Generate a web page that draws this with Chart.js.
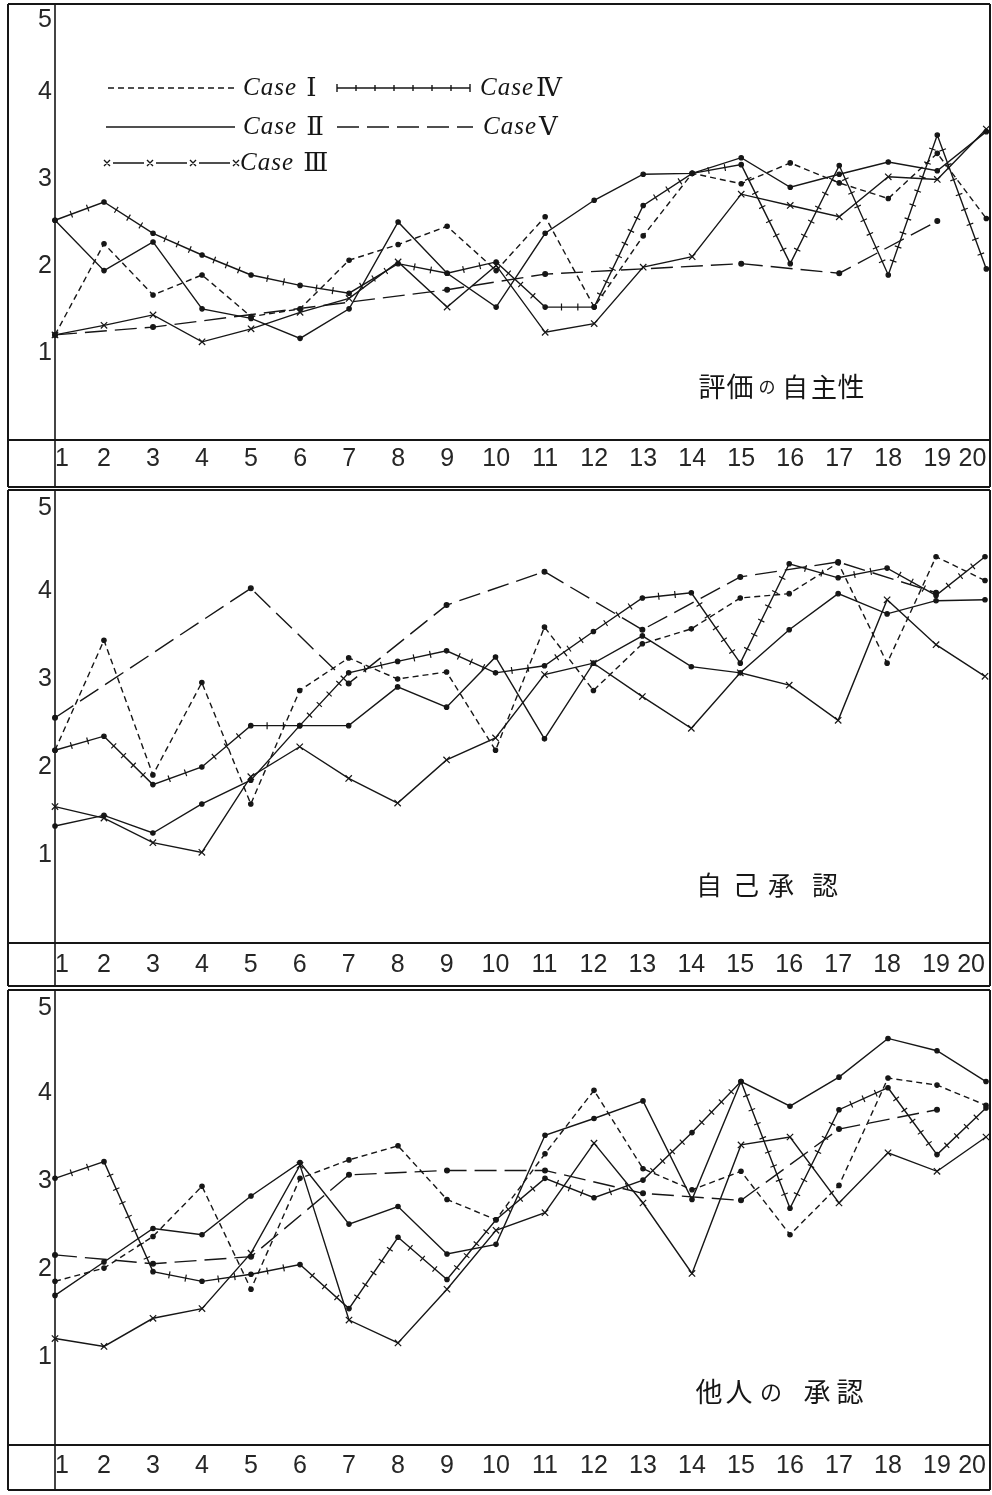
<!DOCTYPE html>
<html lang="ja">
<head>
<meta charset="utf-8">
<title>評価の自主性・自己承認・他人の承認</title>
<script src="https://cdn.jsdelivr.net/npm/chart.js@4.4.1/dist/chart.umd.min.js"></script>
<style>
  html, body { margin: 0; padding: 0; background: #fff; }
  body { width: 992px; height: 1495px; position: relative; overflow: hidden; }
  canvas { position: absolute; left: 0; display: block; }
</style>
</head>
<body>
<canvas id="c1" width="992" height="488" style="top:0"></canvas>
<canvas id="c2" width="992" height="500" style="top:488px"></canvas>
<canvas id="c3" width="992" height="507" style="top:988px"></canvas>
<script>
// sessions 1..20 and the y tick labels
const sessions = ['1','2','3','4','5','6','7','8','9','10','11','12','13','14','15','16','17','18','19','20'];
const yTicks = [1, 2, 3, 4, 5];
const caseNames = ['Case Ⅰ', 'Case Ⅱ', 'Case Ⅲ', 'CaseⅣ', 'CaseⅤ'];

// 評価の自主性
const autoI   = [1.21, 2.26, 1.67, 1.90, 1.42, 1.51, 2.07, 2.25, 2.46, 1.95, 2.57, 1.53, 2.35, 3.07, 2.95, 3.19, 2.96, 2.78, 3.30, 2.55];
const autoII  = [2.53, 1.95, 2.28, 1.51, 1.40, 1.17, 1.51, 2.51, 1.92, 1.53, 2.38, 2.76, 3.06, 3.07, 3.25, 2.91, 3.06, 3.20, 3.10, 3.55];
const autoIII = [1.21, 1.32, 1.44, 1.13, 1.28, 1.47, 1.63, 2.05, 1.53, 2.01, 1.24, 1.34, 1.99, 2.11, 2.83, 2.70, 2.57, 3.03, 3.00, 3.58];
const autoIV  = [2.53, 2.74, 2.38, 2.13, 1.90, 1.78, 1.69, 2.03, 1.92, 2.05, 1.53, 1.53, 2.70, 3.07, 3.17, 2.03, 3.16, 1.90, 3.51, 1.97];
const autoV   = [1.21, null, 1.30, null, null, null, null, null, 1.73, null, 1.91, null, null, null, 2.03, null, 1.92, null, 2.52, null];

// 自己承認
const selfI   = [2.19, 3.44, 1.91, 2.96, 1.58, 2.87, 3.24, 3.00, 3.08, 2.19, 3.59, 2.87, 3.40, 3.57, 3.92, 3.97, 4.32, 3.18, 4.39, 4.12];
const selfII  = [1.33, 1.45, 1.25, 1.58, 1.85, 2.47, 2.47, 2.91, 2.68, 3.25, 2.32, 3.18, 3.49, 3.14, 3.07, 3.56, 3.97, 3.74, 3.89, 3.90];
const selfIII = [1.55, 1.42, 1.14, 1.03, 1.89, 2.23, 1.87, 1.59, 2.08, 2.33, 3.05, 3.18, 2.80, 2.44, 3.07, 2.93, 2.53, 3.90, 3.39, 3.03];
const selfIV  = [2.19, 2.35, 1.80, 2.00, 2.47, 2.47, 3.07, 3.20, 3.32, 3.07, 3.15, 3.54, 3.92, 3.98, 3.18, 4.31, 4.15, 4.26, 3.95, 4.39];
const selfV   = [2.56, null, null, null, 4.03, null, 2.95, null, 3.84, null, 4.22, null, 3.56, null, 4.16, null, 4.33, null, 3.98, null];

// 他人の承認
const othersI   = [1.86, 2.01, 2.37, 2.94, 1.77, 3.03, 3.24, 3.40, 2.79, 2.56, 3.31, 4.03, 3.14, 2.90, 3.11, 2.39, 2.95, 4.17, 4.09, 3.86];
const othersII  = [1.70, 2.08, 2.46, 2.39, 2.83, 3.21, 2.51, 2.71, 2.17, 2.28, 3.52, 3.71, 3.91, 2.79, 4.13, 3.85, 4.18, 4.62, 4.48, 4.13];
const othersIII = [1.21, 1.12, 1.44, 1.55, 2.18, 3.18, 1.42, 1.16, 1.77, 2.44, 2.64, 3.43, 2.75, 1.95, 3.41, 3.50, 2.75, 3.32, 3.11, 3.50];
const othersIV  = [3.03, 3.22, 1.97, 1.86, 1.94, 2.05, 1.55, 2.36, 1.88, 2.56, 3.03, 2.81, 3.01, 3.55, 4.13, 2.69, 3.81, 4.06, 3.30, 3.83];
const othersV   = [2.16, null, 2.06, null, 2.14, null, 3.07, null, 3.12, null, 3.12, null, 2.86, null, 2.78, null, 3.59, null, 3.81, null];

const ink = '#161616';
const numFamily = "'Liberation Sans', 'Noto Sans', sans-serif";
const cjkFamily = "'Noto Sans CJK JP', sans-serif";

// line look of each case
const caseStyles = [
  { borderDash: [6, 4], pointStyle: 'circle', pointRadius: 2.2 },
  { borderDash: [], pointStyle: 'circle', pointRadius: 2.2 },
  { borderDash: [], pointStyle: 'crossRot', pointRadius: 4.5 },
  { borderDash: [], pointStyle: 'circle', pointRadius: 2.2, hatch: true },
  { borderDash: [22, 8], pointStyle: 'circle', pointRadius: 2.4 }
];

// small perpendicular ticks along a polyline (Case IV)
function drawHatch(ctx, pts, spacing, half) {
  for (let i = 0; i < pts.length - 1; i++) {
    const a = pts[i], b = pts[i + 1];
    const dx = b.x - a.x, dy = b.y - a.y, len = Math.hypot(dx, dy);
    if (!len) continue;
    const ux = dx / len, uy = dy / len;
    const n = Math.max(1, Math.round(len / spacing));
    for (let k = 1; k < n; k++) {
      const px = a.x + ux * len * k / n, py = a.y + uy * len * k / n;
      ctx.moveTo(px + uy * half, py - ux * half);
      ctx.lineTo(px - uy * half, py + ux * half);
    }
  }
}

const hatchPlugin = {
  id: 'hatch',
  afterDatasetsDraw(chart) {
    const ctx = chart.ctx;
    chart.data.datasets.forEach((ds, i) => {
      if (!ds.hatch) return;
      const pts = chart.getDatasetMeta(i).data.filter(p => !p.skip);
      ctx.save();
      ctx.strokeStyle = ink;
      ctx.lineWidth = 1.2;
      ctx.beginPath();
      drawHatch(ctx, pts, 15, 3.5);
      ctx.stroke();
      ctx.restore();
    });
  }
};

// panel box, axis lines and the label strip
const framePlugin = {
  id: 'frame',
  afterDraw(chart, args, opts) {
    const { ctx, chartArea } = chart;
    const L = 8, R = 990;
    ctx.save();
    ctx.strokeStyle = ink;
    ctx.lineWidth = 2;
    ctx.beginPath();
    ctx.moveTo(L, opts.top); ctx.lineTo(R, opts.top);
    ctx.moveTo(L, opts.top); ctx.lineTo(L, opts.bottom);
    ctx.moveTo(R, opts.top); ctx.lineTo(R, opts.bottom);
    ctx.moveTo(L, chartArea.bottom); ctx.lineTo(R, chartArea.bottom);
    ctx.moveTo(L, opts.bottom); ctx.lineTo(R, opts.bottom);
    ctx.stroke();
    ctx.lineWidth = 1.6;
    ctx.beginPath();
    ctx.moveTo(chartArea.left, opts.top); ctx.lineTo(chartArea.left, opts.bottom);
    ctx.stroke();
    ctx.restore();
  }
};

const yLabelPlugin = {
  id: 'yLabels',
  afterDraw(chart) {
    const { ctx } = chart;
    const y = chart.scales.y;
    ctx.save();
    ctx.fillStyle = '#262626';
    ctx.font = '25px ' + numFamily;
    ctx.textAlign = 'center';
    ctx.textBaseline = 'middle';
    yTicks.forEach(v => ctx.fillText(String(v), 45, Math.max(y.getPixelForValue(v), 20)));
    ctx.restore();
  }
};

const titlePlugin = {
  id: 'panelTitle',
  afterDraw(chart, args, opts) {
    const ctx = chart.ctx;
    ctx.save();
    ctx.fillStyle = ink;
    ctx.textAlign = 'center';
    ctx.textBaseline = 'middle';
    opts.chars.forEach(([ch, x, size]) => {
      ctx.font = size + 'px ' + cjkFamily;
      ctx.fillText(ch, x, opts.y);
    });
    ctx.restore();
  }
};

// hand placed legend of the first panel
const legendPlugin = {
  id: 'caseLegend',
  afterDraw(chart, args, opts) {
    if (!opts.items) return;
    const ctx = chart.ctx;
    ctx.save();
    ctx.strokeStyle = ink;
    ctx.fillStyle = ink;
    opts.items.forEach(it => {
      const st = caseStyles[it.ds];
      ctx.lineWidth = 1.4;
      ctx.setLineDash(st.borderDash);
      ctx.beginPath();
      if (st.pointStyle === 'crossRot') {
        const n = 3, step = (it.x2 - it.x1) / n;
        for (let k = 0; k < n; k++) {
          ctx.moveTo(it.x1 + k * step + 6, it.y);
          ctx.lineTo(it.x1 + (k + 1) * step - 6, it.y);
        }
        ctx.stroke();
        ctx.beginPath();
        for (let k = 0; k <= n; k++) {
          const cx = it.x1 + k * step;
          ctx.moveTo(cx - 3, it.y - 3); ctx.lineTo(cx + 3, it.y + 3);
          ctx.moveTo(cx + 3, it.y - 3); ctx.lineTo(cx - 3, it.y + 3);
        }
      } else {
        ctx.moveTo(it.x1, it.y); ctx.lineTo(it.x2, it.y);
        if (st.hatch) {
          ctx.stroke();
          ctx.setLineDash([]);
          ctx.beginPath();
          ctx.moveTo(it.x1, it.y - 4); ctx.lineTo(it.x1, it.y + 4);
          ctx.moveTo(it.x2, it.y - 4); ctx.lineTo(it.x2, it.y + 4);
          drawHatch(ctx, [{ x: it.x1, y: it.y }, { x: it.x2, y: it.y }], 18, 3);
        }
      }
      ctx.stroke();
      ctx.setLineDash([]);
      // "Case" in italic, the roman numeral upright
      const m = caseNames[it.ds].match(/^(Case\s?)(.*)$/);
      ctx.textAlign = 'left';
      ctx.textBaseline = 'middle';
      ctx.font = "italic 25px 'Liberation Serif', 'DejaVu Serif', serif";
      ctx.letterSpacing = '1px';
      ctx.fillText(m[1], it.tx, it.y);
      const w = ctx.measureText(m[1]).width;
      ctx.letterSpacing = '0px';
      ctx.font = "26px 'DejaVu Serif', serif";
      ctx.fillText(m[2], it.tx + w + 2, it.y + 1);
    });
    ctx.restore();
  }
};

const panels = [
  {
    id: 'c1', series: [autoI, autoII, autoIII, autoIV, autoV],
    padTop: 5, strip: 48, frameTop: 4, frameBottom: 487, tickPad: 4,
    title: { y: 387, chars: [['評', 712, 27], ['価', 740, 27], ['の', 767, 17], ['自', 795, 26], ['主', 824, 26], ['性', 851, 27]] },
    legend: [
      { ds: 0, x1: 108, x2: 235, y: 88, tx: 243 },
      { ds: 3, x1: 337, x2: 470, y: 88, tx: 480 },
      { ds: 1, x1: 106, x2: 235, y: 127, tx: 243 },
      { ds: 4, x1: 337, x2: 473, y: 127, tx: 483 },
      { ds: 2, x1: 107, x2: 236, y: 163, tx: 240 }
    ]
  },
  {
    id: 'c2', series: [selfI, selfII, selfIII, selfIV, selfV],
    padTop: 15, strip: 45, frameTop: 2, frameBottom: 498, tickPad: 7,
    title: { y: 397, chars: [['自', 709, 26], ['己', 746, 26], ['承', 781, 26], ['認', 825, 26]] },
    legend: null
  },
  {
    id: 'c3', series: [othersI, othersII, othersIII, othersIV, othersV],
    padTop: 17, strip: 50, frameTop: 2, frameBottom: 502, tickPad: 6,
    title: { y: 404, chars: [['他', 709, 27], ['人', 739, 27], ['の', 771, 22], ['承', 817, 27], ['認', 850, 27]] },
    legend: null
  }
];

panels.forEach(p => {
  const datasets = p.series.map((data, i) => ({
    label: caseNames[i],
    data: data,
    borderColor: ink,
    backgroundColor: ink,
    borderWidth: 1.4,
    borderDash: caseStyles[i].borderDash,
    pointStyle: caseStyles[i].pointStyle,
    pointRadius: caseStyles[i].pointRadius,
    pointBorderWidth: 1.2,
    pointBorderColor: ink,
    pointBackgroundColor: ink,
    hatch: !!caseStyles[i].hatch,
    spanGaps: true,
    tension: 0,
    fill: false,
    clip: 10
  }));

  new Chart(document.getElementById(p.id), {
    type: 'line',
    data: { labels: sessions, datasets },
    options: {
      responsive: false,
      animation: false,
      events: [],
      layout: { padding: { top: p.padTop, right: 2, left: 0, bottom: 0 } },
      plugins: {
        legend: { display: false },
        tooltip: { enabled: false },
        frame: { top: p.frameTop, bottom: p.frameBottom },
        panelTitle: p.title,
        caseLegend: { items: p.legend }
      },
      scales: {
        x: {
          type: 'category',
          offset: false,
          grid: { display: false, drawTicks: false },
          border: { display: false },
          ticks: {
            align: 'inner', autoSkip: false, maxRotation: 0, padding: p.tickPad,
            color: '#262626', font: { family: numFamily, size: 25 }
          },
          afterFit: s => { s.height = p.strip; }
        },
        y: {
          min: 0, max: 5,
          grid: { display: false, drawTicks: false },
          border: { display: false },
          ticks: { display: false, stepSize: 1 },
          afterFit: s => { s.width = 55; }
        }
      }
    },
    plugins: [hatchPlugin, framePlugin, yLabelPlugin, titlePlugin, legendPlugin]
  });
});
</script>
</body>
</html>
